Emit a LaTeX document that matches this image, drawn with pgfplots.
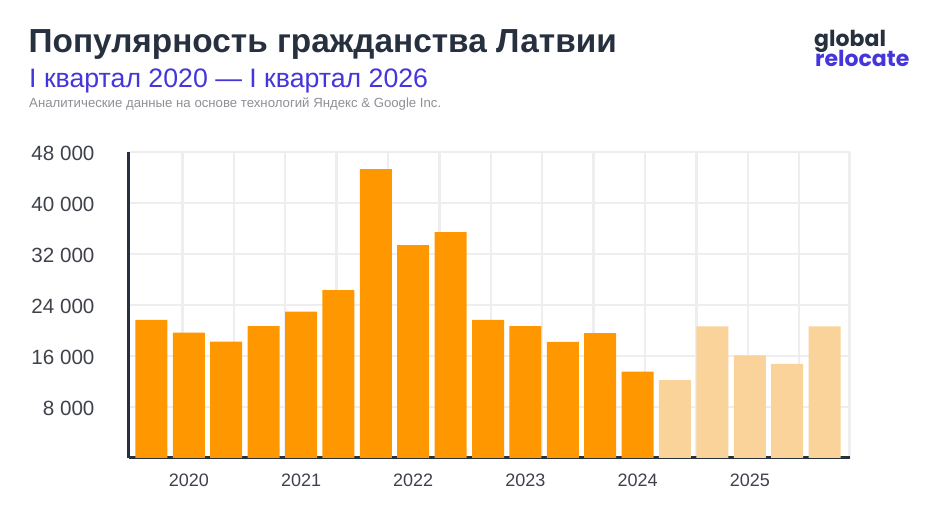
\documentclass[border=0pt]{standalone}
\usepackage{pgfplots}
\pgfplotsset{compat=1.18}
\usepackage{fontspec}
\setmainfont{Liberation Sans}
\newfontfamily\logofont{Poppins}[BoldFont={Poppins Bold}]
\definecolor{dark}{HTML}{27303F}
\definecolor{blue}{HTML}{4536DB}
\definecolor{orange}{HTML}{FF9800}
\definecolor{light}{HTML}{FAD39B}
\definecolor{gridc}{HTML}{EEEEF1}
\definecolor{ticktext}{HTML}{3F424B}
\definecolor{note}{HTML}{8E9096}
\begin{document}
\begin{tikzpicture}[x=1pt,y=1pt]
\path[use as bounding box,fill=white] (0,0) rectangle (935,522);
\begin{axis}[
  at={(129pt,64pt)}, anchor=south west, scale only axis,
  width=721pt, height=306pt,
  xmin=-0.6, xmax=18.68, ymin=0, ymax=48000,
  clip=false,
  axis x line*=bottom, axis y line*=left,
  axis line style={draw=dark,line width=3pt,-},
  xtick={1,4,7,10,13,16},
  xticklabels={2020,2021,2022,2023,2024,2025},
  minor xtick={0.829,2.203,3.577,4.952,6.326,7.70,9.074,10.449,11.823,13.197,14.571,15.946,17.32,18.67},
  ytick={8000,16000,24000,32000,40000,48000},
  xminorgrids=true, ymajorgrids=true,
  minor grid style={draw=gridc,line width=2.5pt},
  major grid style={draw=gridc,line width=2.5pt},
  major tick length=0pt, minor tick length=0pt,
  tick style={draw=none},
  scaled y ticks=false,
  /pgf/number format/assume math mode=true,
  /pgf/number format/1000 sep={\ },
  yticklabel style={font=\fontsize{20.6}{23}\selectfont,text=ticktext,xshift=-31pt,yshift=-1.5pt},
  xticklabel style={font=\fontsize{18}{20}\selectfont,text=ticktext,yshift=-12pt},
  ybar, bar width=32pt,
]
\addplot[bar shift=0pt,fill=orange,draw=none] coordinates {
(0,21650)(1,19650)(2,18240)(3,20700)(4,22950)(5,26350)(6,45330)(7,33400)(8,35450)(9,21650)(10,20700)(11,18200)(12,19600)(13,13540)};
\addplot[bar shift=0pt,fill=light,draw=none] coordinates {
(14,12230)(15,20630)(16,16100)(17,14750)(18,20630)};
\end{axis}
\node[anchor=base west,inner sep=0,text=dark,font=\fontsize{33.35}{36}\selectfont\bfseries] at (28.5,469.5) {Популярность гражданства Латвии};
\node[anchor=base west,inner sep=0,text=blue,font=\fontsize{26.7}{29}\selectfont] at (29,434.5) {I квартал 2020 — I квартал 2026};
\node[anchor=base west,inner sep=0,text=note,font=\fontsize{13.2}{15}\selectfont] at (29,414) {Аналитические данные на основе технологий Яндекс \& Google Inc.};
\node[anchor=base west,inner sep=0,text=dark,font=\logofont\bfseries\fontsize{22}{24}\selectfont] at (814,475) {global};
\node[anchor=base west,inner sep=0,text=blue,font=\logofont\bfseries\fontsize{22}{24}\selectfont] at (815,455) {relocate};
\end{tikzpicture}
\end{document}
